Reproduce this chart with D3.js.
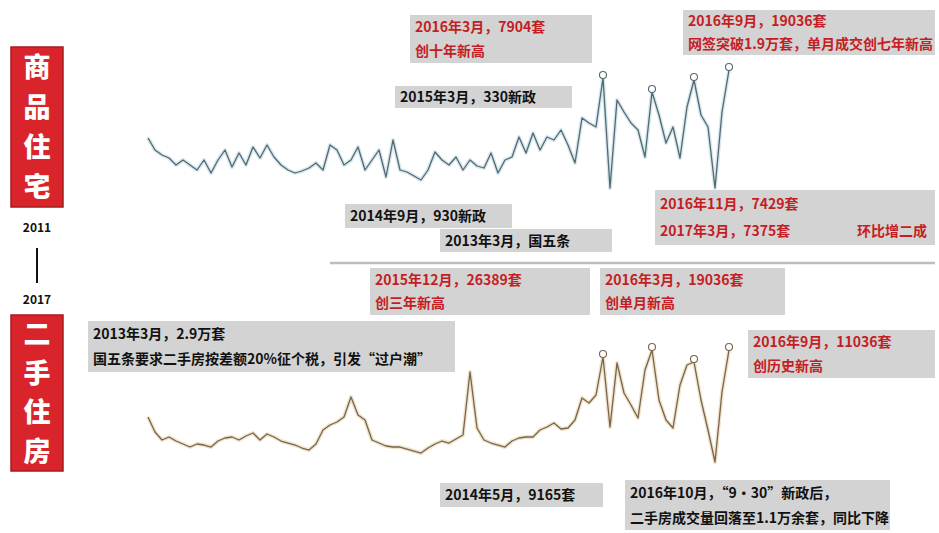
<!DOCTYPE html>
<html><head><meta charset="utf-8">
<script src="https://cdn.jsdelivr.net/npm/d3@7/dist/d3.min.js"></script>
<style>
html,body{margin:0;padding:0;background:#fff;}
svg{display:block;font-family:"Noto Sans CJK SC","Noto Sans",sans-serif;}
</style></head>
<body><svg id="c" width="939" height="533"></svg>
<script>
// ---- data ----
const startYear = 2010;
const periods = d3.range(84).map(i => `${startYear + Math.floor(i / 12)}年${i % 12 + 1}月`);
const newHomeValues = [
  6.2,5.0,4.5,4.2,3.5,4.0,3.5,3.0,4.0,2.7,
  4.0,5.0,3.3,4.7,3.5,5.3,4.2,5.5,4.3,3.5,
  3.0,2.7,2.9,3.2,3.7,3.0,5.5,5.0,3.5,4.0,
  5.3,3.0,4.0,5.0,2.3,6.0,3.0,2.8,2.4,2.0,
  3.0,4.8,4.0,3.5,4.3,3.0,4.0,3.4,3.2,4.7,
  2.7,4.0,4.3,6.3,4.7,6.7,5.0,6.3,6.0,7.0,
  5.5,3.7,8.2,7.7,7.3,12.2,1.2,10.0,8.8,7.7,
  7.0,4.3,10.8,8.5,5.7,7.3,4.2,9.3,12.0,8.5,
  7.3,1.2,8.8,13.0
];
const resaleValues = [
  5.3,3.8,3.0,3.3,2.9,2.6,2.3,2.6,2.5,2.3,
  2.9,3.2,3.3,3.0,3.4,3.7,3.0,3.6,3.3,2.9,
  2.7,2.5,2.2,2.0,2.6,4.0,4.5,4.8,5.3,7.3,
  5.5,5.0,3.0,2.7,2.4,2.3,2.3,2.1,1.9,1.7,
  2.2,2.6,2.9,2.7,3.1,3.5,9.8,4.2,3.0,2.7,
  2.5,2.3,2.9,3.2,3.3,3.3,4.0,4.3,4.7,4.1,
  4.2,5.0,7.2,6.7,7.5,11.3,4.3,10.7,7.7,6.5,
  5.2,10.0,12.0,7.0,5.0,4.2,8.5,10.5,10.8,7.0,
  4.0,0.8,7.8,12.0
];
const newHomeMarked = [65, 72, 78, 83];
const resaleMarked = [65, 72, 78, 83];
const sectionTitles = ["商品住宅", "二手住房"];
const yearLabels = ["2011", "2017"];

// annotations: [lines], each line is array of segments
const notes = [
  {box:[410,15,182,48], color:"#c41e24", lines:[["2016年3月，7904套"],["创十年新高"]]},
  {box:[683,10,252,45], color:"#c41e24", lines:[["2016年9月，19036套"],["网签突破1.9万套，单月成交创七年新高"]]},
  {box:[395,86,177,22], color:"#111", lines:[["2015年3月，330新政"]]},
  {box:[345,204,167,24], color:"#111", lines:[["2014年9月，930新政"]]},
  {box:[440,229,172,23], color:"#111", lines:[["2013年3月，国五条"]]},
  {box:[655,190,280,55], color:"#c41e24", lines:[["2016年11月，7429套"],["2017年3月，7375套","环比增二成"]]},
  {box:[370,268,220,47], color:"#c41e24", lines:[["2015年12月，26389套"],["创三年新高"]]},
  {box:[600,268,185,47], color:"#c41e24", lines:[["2016年3月，19036套"],["创单月新高"]]},
  {box:[88,321,367,51], color:"#111", lines:[["2013年3月，2.9万套"],["国五条要求二手房按差额20%征个税，引发“过户潮”"]]},
  {box:[748,330,187,48], color:"#c41e24", lines:[["2016年9月，11036套"],["创历史新高"]]},
  {box:[440,483,163,24], color:"#111", lines:[["2014年5月，9165套"]]},
  {box:[625,480,265,50], color:"#111", lines:[["2016年10月，“9·30”新政后，"],["二手房成交量回落至1.1万余套，同比下降"]]}
];

// ---- drawing ----
const svg = d3.select("#c");
const x = d3.scaleLinear().domain([0, periods.length - 1]).range([148, 729]);
const yTop = d3.scaleLinear().domain([0, 14]).range([200, 60]);
const yBot = d3.scaleLinear().domain([0, 14]).range([470, 330]);

// separator
svg.append("line").attr("x1",330).attr("x2",935).attr("y1",263).attr("y2",263)
  .attr("stroke","#bdbdbd").attr("stroke-width",2.5);

function series(vals, y, col, halo, marked){
  const line = d3.line().x((d,i)=>x(i)).y(d=>y(d));
  const g = svg.append("g");
  g.append("path").datum(vals).attr("d",line).attr("fill","none")
    .attr("stroke",halo).attr("stroke-width",4).attr("stroke-linejoin","round");
  g.append("path").datum(vals).attr("d",line).attr("fill","none")
    .attr("stroke",col).attr("stroke-width",1.3).attr("stroke-linejoin","round");
  g.selectAll("circle").data(marked).join("circle")
    .attr("cx",i=>x(i)).attr("cy",i=>y(vals[i])-3).attr("r",3.5)
    .attr("fill","#fff").attr("stroke",col).attr("stroke-width",1.1);
}
series(newHomeValues, yTop, "#56676f", "#d6e9ef", newHomeMarked);
series(resaleValues, yBot, "#7a644c", "#efe4cc", resaleMarked);

// annotations
notes.forEach(n=>{
  const [bx,by,bw,bh] = n.box;
  svg.append("rect").attr("x",bx).attr("y",by).attr("width",bw).attr("height",bh).attr("fill","#d3d3d3");
  const lh = n.lines.length===1 ? bh : bh/n.lines.length;
  n.lines.forEach((segs,li)=>{
    const ty = by + lh*li + lh/2 + 5;
    svg.append("text").attr("x",bx+5).attr("y",ty).attr("fill",n.color)
      .attr("font-size",14).attr("font-weight",700).text(segs[0]);
    if(segs.length>1){
      svg.append("text").attr("x",bx+bw-8).attr("y",ty).attr("text-anchor","end").attr("fill",n.color)
        .attr("font-size",14).attr("font-weight",700).text(segs[1]);
    }
  });
});

// left titles
const titleBoxes = [[11,47,52,160],[11,315,52,156]];
sectionTitles.forEach((t,k)=>{
  const [bx,by,bw,bh] = titleBoxes[k];
  svg.append("rect").attr("x",bx).attr("y",by).attr("width",bw).attr("height",bh)
    .attr("fill","#d8242a").attr("stroke","#a51c1f").attr("stroke-width",1.5);
  t.split("").forEach((ch,i)=>{
    svg.append("text").attr("x",bx+bw/2).attr("y",by+bh/8+bh/4*i)
      .attr("dy","0.36em")
      .attr("text-anchor","middle").attr("fill","#fff").attr("font-size",27).attr("font-weight",900).text(ch);
  });
});
svg.append("text").attr("x",37).attr("y",232).attr("text-anchor","middle").attr("font-size",12)
  .attr("font-weight",700).attr("fill","#111").text(yearLabels[0]);
svg.append("line").attr("x1",37).attr("x2",37).attr("y1",248).attr("y2",283).attr("stroke","#111").attr("stroke-width",2);
svg.append("text").attr("x",37).attr("y",304).attr("text-anchor","middle").attr("font-size",12)
  .attr("font-weight",700).attr("fill","#111").text(yearLabels[1]);
</script></body></html>
